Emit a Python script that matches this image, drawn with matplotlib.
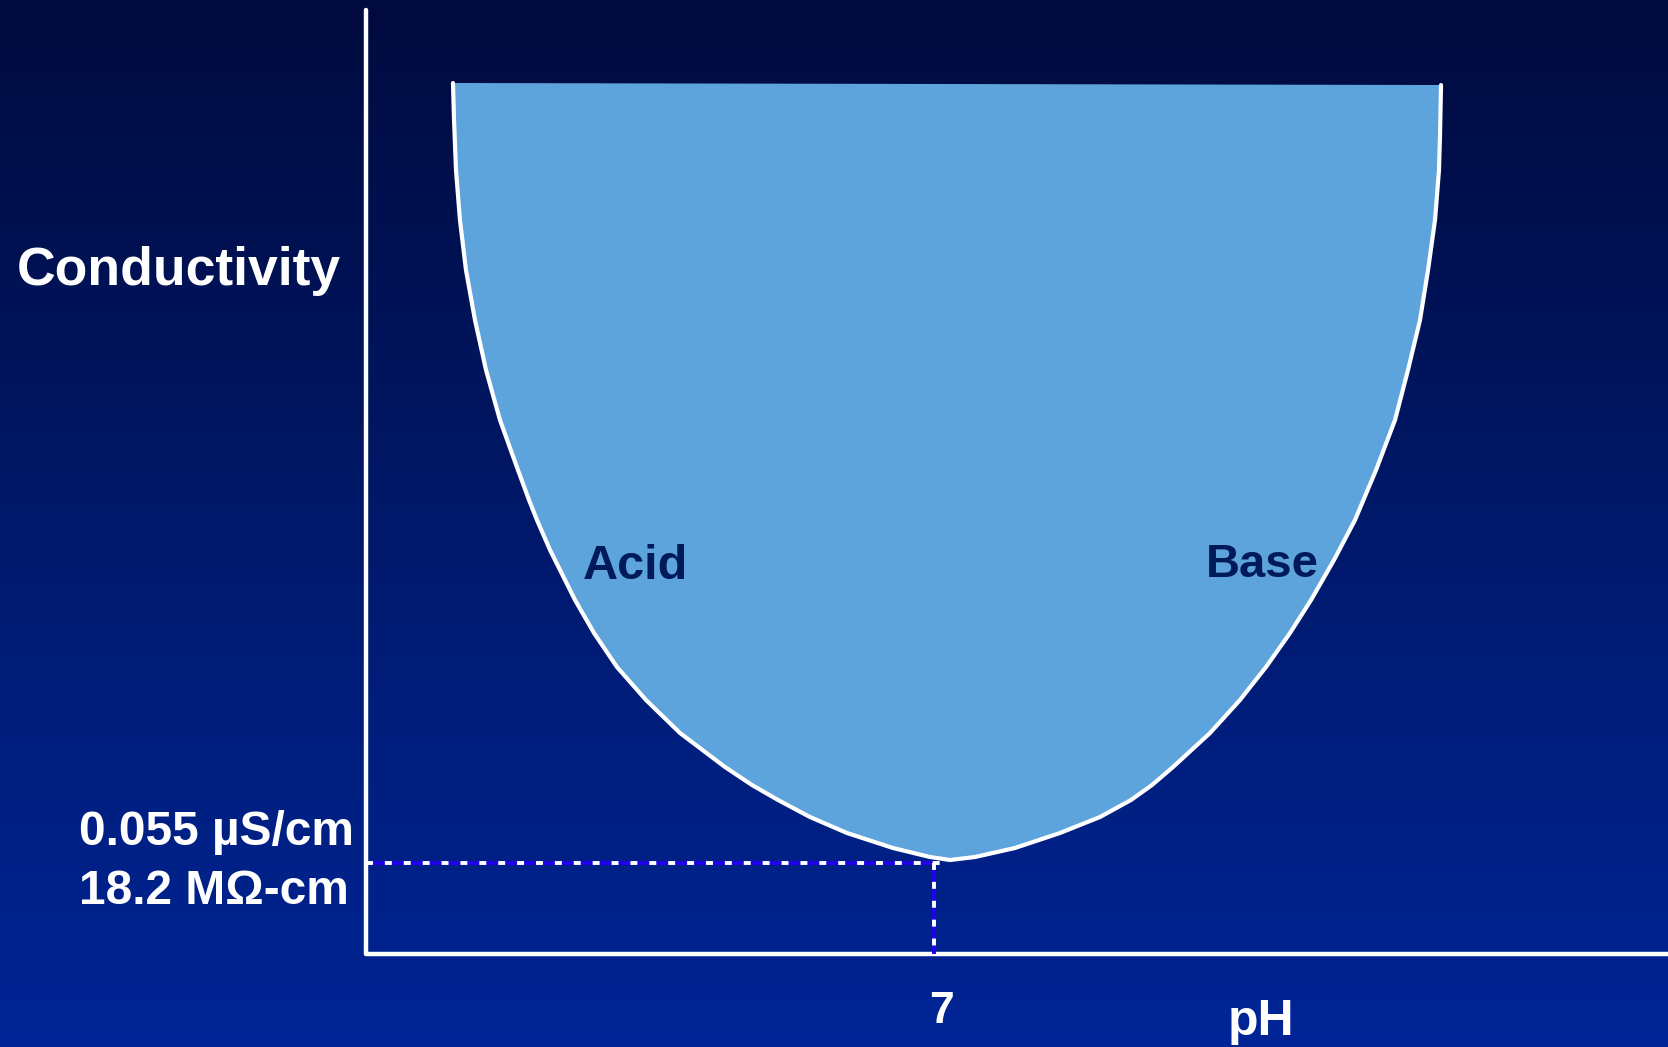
import numpy as np
import matplotlib
matplotlib.use("Agg")
import matplotlib.pyplot as plt
from matplotlib.colors import LinearSegmentedColormap

plt.rcParams['font.family'] = ['Liberation Sans', 'DejaVu Sans']
plt.rcParams['lines.scale_dashes'] = False

# ---- data (pH vs relative conductivity) ----
ph_acid = [1.072, 1.085, 1.109, 1.158, 1.232, 1.343, 1.479, 1.651, 1.873, 2.009,
           2.107, 2.268, 2.576, 2.810, 3.093, 3.451, 3.870, 4.424, 4.757, 5.078,
           5.472, 5.928, 6.495, 6.951, 7.197]
cond_acid = [8.71, 8.34, 7.84, 7.34, 6.84, 6.34, 5.84, 5.34, 4.84, 4.54,
             4.34, 4.04, 3.54, 3.21, 2.87, 2.54, 2.21, 1.87, 1.69, 1.54,
             1.37, 1.21, 1.06, 0.97, 0.94]
ph_base = [7.197, 7.506, 7.998, 8.553, 9.046, 9.428, 9.687, 9.946, 10.402, 10.771,
           11.092, 11.388, 11.647, 11.930, 12.189, 12.448, 12.682, 12.842, 12.990,
           13.089, 13.175, 13.224, 13.236, 13.249]
cond_base = [0.94, 0.97, 1.06, 1.21, 1.37, 1.54, 1.69, 1.87, 2.21, 2.54,
             2.87, 3.21, 3.54, 3.94, 4.34, 4.84, 5.34, 5.84, 6.34,
             6.84, 7.34, 7.84, 8.17, 8.69]
neutral_ph = 7
pure_water_cond = 0.91
axis_top = 9.44
ylabel_lines = ["0.055 µS/cm", "18.2 MΩ-cm"]

# ---- figure ----
W, H = 1668, 1047
fig = plt.figure(figsize=(W / 100, H / 100), dpi=100)
ax = fig.add_axes([0, 0, 1, 1])
x0, x1 = -366 / 81.14, (W - 366) / 81.14
y0, y1 = (954 - H) / 100, 954 / 100
ax.set_xlim(x0, x1)
ax.set_ylim(y0, y1)
ax.axis('off')

# background gradient (dark navy at top -> royal blue at bottom)
cmap = LinearSegmentedColormap.from_list('bg', ['#000a3e', '#00145a', '#001d7a', '#002596'])
grad = np.linspace(0, 1, 256).reshape(-1, 1)
ax.imshow(grad, cmap=cmap, aspect='auto', extent=(x0, x1, y0, y1),
          origin='upper', zorder=0)

# filled U curve
ph_all = ph_acid + ph_base[1:]
cond_all = cond_acid + cond_base[1:]
ax.fill(ph_all, cond_all, color='#5da3dc', zorder=2, lw=0)
ax.plot(ph_all, cond_all, color='white', lw=3.0, solid_capstyle='round',
        solid_joinstyle='round', zorder=3)

# axes lines
ax.plot([0, 0, x1 + 1], [axis_top, 0, 0], color='white', lw=3.2,
        solid_capstyle='round', solid_joinstyle='round', zorder=4)

# dotted reference lines
for xs, ys in [([0, neutral_ph + 0.08], [pure_water_cond, pure_water_cond]),
               ([neutral_ph, neutral_ph], [pure_water_cond, 0])]:
    ax.plot(xs, ys, color='#2200ee', lw=2.8, zorder=5, solid_capstyle='butt')
    ax.plot(xs, ys, color='white', lw=2.8, zorder=6, dashes=(5, 8.6),
            dash_capstyle='butt')

# labels
ax.text(-4.31, 6.69, "Conductivity", color='white', fontsize=38.5,
        fontweight='bold', ha='left', va='baseline', zorder=7)
ax.text(-3.54, 1.09, ylabel_lines[0], color='white', fontsize=34.5,
        fontweight='bold', ha='left', va='baseline', zorder=7)
ax.text(-3.54, 0.50, ylabel_lines[1], color='white', fontsize=34.5,
        fontweight='bold', ha='left', va='baseline', zorder=7)
ax.text(2.67, 3.75, "Acid", color='#001a5a', fontsize=35,
        fontweight='bold', ha='left', va='baseline', zorder=7)
ax.text(10.35, 3.77, "Base", color='#001a5a', fontsize=34,
        fontweight='bold', ha='left', va='baseline', zorder=7)
ax.text(7.09, -0.69, str(neutral_ph), color='white', fontsize=32,
        fontweight='bold', ha='center', va='baseline', zorder=7)
ax.text(10.62, -0.81, "pH", color='white', fontsize=36,
        fontweight='bold', ha='left', va='baseline', zorder=7)

fig.savefig('out.png', dpi=100)
